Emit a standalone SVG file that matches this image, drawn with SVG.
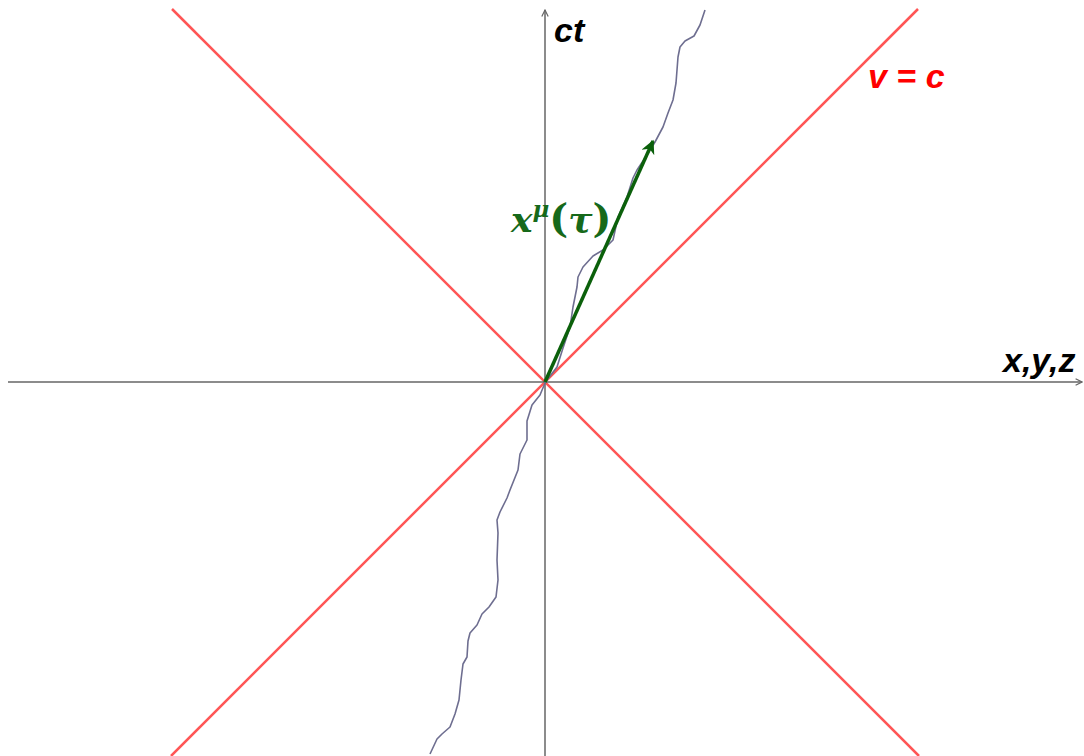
<svg xmlns="http://www.w3.org/2000/svg" width="1084" height="756" viewBox="0 0 1084 756">
<style>
.axis{stroke:#666;stroke-width:1.5;fill:none}
.cone{stroke:#ff5555;stroke-width:2.5;fill:none}
.wl{stroke:#6e6e90;stroke-width:1.6;fill:none;stroke-linejoin:round}
.lbl{font-family:"Liberation Sans",Arial,sans-serif;font-weight:bold;font-style:italic;font-size:34px}
.math{font-family:"DejaVu Serif","Liberation Serif",serif;font-weight:bold;fill:#16691a}
.it{font-style:italic}
</style>
<defs>
<marker id="open" viewBox="0 0 10 10" refX="9" refY="5" markerWidth="8" markerHeight="8" markerUnits="userSpaceOnUse" orient="auto">
<path d="M1,1 L9,5 L1,9" fill="none" stroke="#666" stroke-width="1.5"/>
</marker>
<marker id="gh" viewBox="0 0 10 10" refX="9" refY="5" markerWidth="16" markerHeight="14" markerUnits="userSpaceOnUse" orient="auto">
<path d="M0,0 L10,5 L0,10 L3,5 Z" fill="#0b600b"/>
</marker>
</defs>
<rect width="1084" height="756" fill="#fff"/>
<g id="lightcone">
<line class="cone" x1="172" y1="9" x2="919" y2="756"/>
<line class="cone" x1="918" y1="9" x2="171" y2="756"/>
</g>
<g id="axes">
<line class="axis" x1="545" y1="756" x2="545" y2="10" marker-end="url(#open)"/>
<line class="axis" x1="8" y1="382" x2="1082" y2="382" marker-end="url(#open)"/>
</g>
<g id="worldline">
<path class="wl" d="M430,754 L437,739 L442,734 L450,727 L455,714 L459,700 L460,690 L461,680 L463,664 L467,657 L468,641 L470,633 L477,625 L482,614 L489,607 L496,597 L498,580 L497,560 L498,533 L497,520 L500,512 L507,498 L510,490 L518,470 L520,454 L527,440 L527,421 L532,405 L540,395 L545,383 L547,380 L557,367 L563,348 L570,327 L573,307 L577,287 L578,277 L583,267 L593,256 L603,250 L613,240 L618,217 L627,197 L633,178 L637,170 L647,155 L655,142 L663,127 L668,113 L673,100 L676,83 L678,57 L680,47 L685,41 L694,36 L700,25 L705,10"/>
</g>
<g id="connectors">
<line x1="545" y1="382" x2="653" y2="141" stroke="#0b600b" stroke-width="3.5" marker-end="url(#gh)"/>
</g>
<g id="labels">
<text class="lbl" x="554" y="42" fill="#000">ct</text>
<text class="lbl" x="1003" y="372" fill="#000">x,y,z</text>
<text class="lbl" x="868" y="88" fill="#ff0000">v = c</text>
<text class="math" x="511" y="232" font-size="36"><tspan class="it">x</tspan><tspan class="it" font-size="23" dy="-15">μ</tspan><tspan dy="15" font-size="40">(</tspan><tspan class="it">τ</tspan><tspan font-size="40">)</tspan></text>
</g>
</svg>
